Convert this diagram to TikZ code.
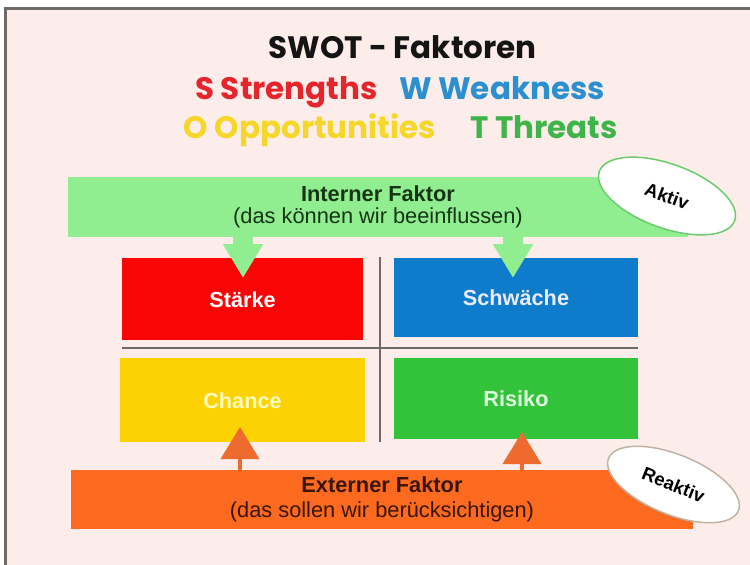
\documentclass[tikz,border=0pt]{standalone}
\usepackage{fontspec}
\setmainfont{Liberation Sans}
\newfontfamily\gothic{Poppins}
\usetikzlibrary{arrows.meta,shapes.geometric}
\definecolor{bgpink}{HTML}{FCEDEA}
\definecolor{framegray}{HTML}{6E6A68}
\definecolor{bannergreen}{HTML}{90EE90}
\definecolor{barorange}{HTML}{FB6A1E}
\definecolor{arroworange}{HTML}{EE6A2E}
\definecolor{boxred}{HTML}{FA0505}
\definecolor{boxblue}{HTML}{0F7CCB}
\definecolor{boxyellow}{HTML}{FDD203}
\definecolor{boxgreen}{HTML}{32C33A}
\definecolor{divgray}{HTML}{6F6868}
\definecolor{tred}{HTML}{E4262C}
\definecolor{tblue}{HTML}{2B8FD0}
\definecolor{tyellow}{HTML}{F5D629}
\definecolor{tgreen}{HTML}{3FB44A}
\definecolor{intext}{HTML}{153515}
\definecolor{extext}{HTML}{3A1505}
\definecolor{aktivborder}{HTML}{6CCB6C}
\definecolor{reaktivborder}{HTML}{BEB3A5}
\tikzset{
  swotbox/.style={rectangle, inner sep=0pt, text height=16pt, text depth=0pt,
    font=\bfseries\fontsize{21.7}{23}\selectfont},
  titletext/.style={anchor=base, inner sep=0pt, font=\gothic\bfseries\fontsize{31}{33}\selectfont},
  bannerbox/.style={rectangle, inner sep=0pt, align=center},
  tagellipse/.style={ellipse, inner sep=0pt, line width=1.5pt,
    font=\bfseries\fontsize{18.5}{20}\selectfont},
  greenarrow/.style={draw=bannergreen, line width=20pt, -{Triangle[width=38pt,length=34pt]}},
  orangearrow/.style={draw=arroworange, line width=4pt, -{Triangle[width=38pt,length=32pt]}},
  divider/.style={draw=divgray, line width=1.8pt}
}
\begin{document}
\begin{tikzpicture}[x=1pt,y=-1pt]
\useasboundingbox (0,0) rectangle (750,565);
% frame and background
\fill[white] (0,0) rectangle (760,575);
\fill[framegray] (4,7) rectangle (760,575);
\fill[bgpink] (7,10) rectangle (760,575);

% titles
\node[titletext, text=black!92] (title) at (402.5,58) {SWOT - Faktoren};
\node[titletext, text=tred] (strength) at (286.5,99) {S Strengths};
\node[titletext, text=tblue] (weak) at (502,99) {W Weakness};
\node[titletext, text=tyellow] (opp) at (310,138) {O Opportunities};
\node[titletext, text=tgreen] (threat) at (544,138) {T Threats};

% dividers
\draw[divider] (122,348) -- (638,348);
\draw[divider] (380,257) -- (380,442);

% quadrant boxes
\node[swotbox, fill=boxred, text=white, minimum width=241pt, minimum height=82pt] (S) at (242.5,299) {Stärke};
\node[swotbox, fill=boxblue, text=blue!8!white, minimum width=244pt, minimum height=79pt] (W) at (516,297.5) {Schwäche};
\node[swotbox, fill=boxyellow, text=yellow!25!white, minimum width=245pt, minimum height=84pt] (O) at (242.5,400) {Chance};
\node[swotbox, fill=boxgreen, text=green!12!white, minimum width=244pt, minimum height=81pt] (T) at (516,398.5) {Risiko};

% banners
\node[bannerbox, fill=bannergreen, text=intext, minimum width=620pt, minimum height=60pt,
  font=\fontsize{21.8}{21.5}\selectfont] (intern) at (378,207)
  {\textbf{Interner Faktor}\\(das können wir beeinflussen)};
\node[bannerbox, fill=barorange, text=extext, minimum width=622pt, minimum height=59pt,
  font=\fontsize{21.8}{25}\selectfont] (extern) at (382,499.5)
  {\textbf{Externer Faktor}\\(das sollen wir berücksichtigen)};

% arrows
\coordinate (tipA) at (243,278);
\coordinate (tipB) at (513,278);
\coordinate (tipC) at (240,427);
\coordinate (tipD) at (522,432);
\draw[greenarrow] (intern.south -| tipA) -- (tipA);
\draw[greenarrow] (intern.south -| tipB) -- (tipB);
\draw[orangearrow] (extern.north -| tipC) -- (tipC);
\draw[orangearrow] (extern.north -| tipD) -- (tipD);

% tags
\node[tagellipse, draw=aktivborder, fill=white, minimum width=144pt, minimum height=64pt, rotate=-20] (aktiv) at (667,196) {Aktiv};
\node[tagellipse, draw=reaktivborder, fill=white, minimum width=140pt, minimum height=60pt, rotate=-22] (reaktiv) at (673.5,484.5) {Reaktiv};
\end{tikzpicture}
\end{document}
